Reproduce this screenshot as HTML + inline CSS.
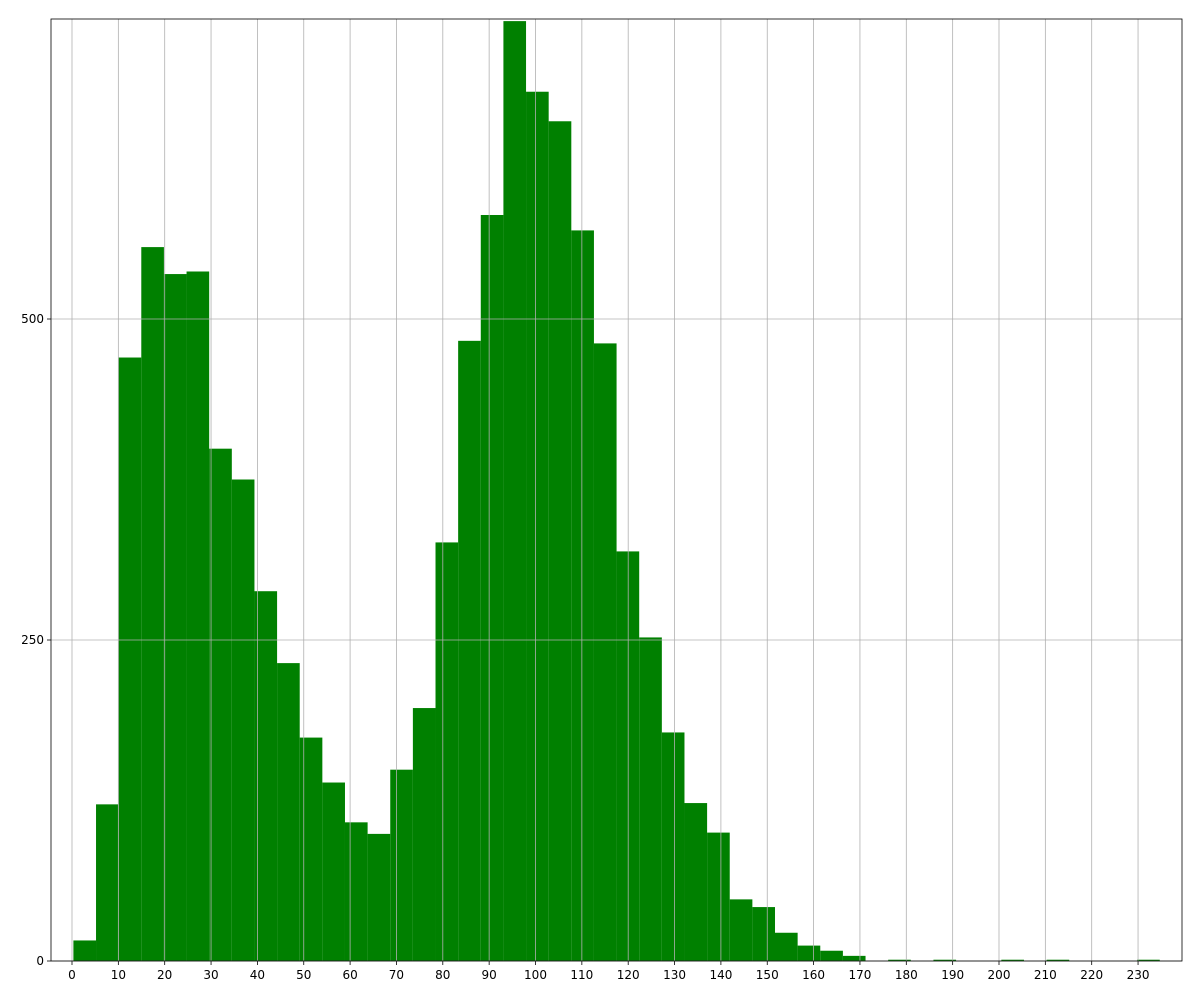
<!DOCTYPE html>
<html><head><meta charset="utf-8"><style>
body{margin:0;background:#fff}
svg text{font-family:"DejaVu Sans","Liberation Sans",sans-serif;font-size:12px;fill:#000}
</style></head><body>
<svg id="chart" width="1200" height="1000" xmlns="http://www.w3.org/2000/svg"></svg>
<script>
const binCounts=[16,122,470,556,535,537,399,375,288,232,174,139,108,99,149,197,326,483,581,732,677,654,569,481,319,252,178,123,100,48,42,22,12,8,4,0,1,0,1,0,0,1,0,1,0,0,0,1];
const binStart=0.3, binWidth=4.883;
const xTicks=[0,10,20,30,40,50,60,70,80,90,100,110,120,130,140,150,160,170,180,190,200,210,220,230];
const yTicks=[0,250,500];
const L=51,R=1182,T=19,B=961;
const x=v=>72+v*4.635;
const y=v=>B-v*1.284;
const svg=document.getElementById('chart');
const NS='http://www.w3.org/2000/svg';
function mk(tag,attrs){const e=document.createElementNS(NS,tag);for(const k in attrs)e.setAttribute(k,attrs[k]);svg.appendChild(e);return e;}
binCounts.forEach((c,i)=>{if(c<=0)return;
 const x0=x(binStart+i*binWidth),x1=x(binStart+(i+1)*binWidth);
 const r=mk('rect',{x:x0,y:y(c),width:x1-x0,height:B-y(c),fill:'#008000'});
 
 
});
xTicks.forEach(t=>{const p=x(t);
 const g=mk('line',{x1:p,x2:p,y1:T,y2:B,stroke:'#b0b0b0','stroke-width':0.8});
 
 
 mk('line',{x1:p,x2:p,y1:B,y2:B+4,stroke:'#000','stroke-width':0.8});
 const tx=mk('text',{x:p,y:B+18,'text-anchor':'middle'});tx.textContent=t;
 
 
});
yTicks.forEach(t=>{const p=y(t);
 const g=mk('line',{x1:L,x2:R,y1:p,y2:p,stroke:'#b0b0b0','stroke-width':0.8});
 
 
 mk('line',{x1:L-4,x2:L,y1:p,y2:p,stroke:'#000','stroke-width':0.8});
 const tx=mk('text',{x:L-7,y:p+4,'text-anchor':'end'});tx.textContent=t;
 
 
});
const f=mk('rect',{x:L,y:T,width:R-L,height:B-T,fill:'none',stroke:'#000','stroke-width':0.8});


</script>
</body></html>
